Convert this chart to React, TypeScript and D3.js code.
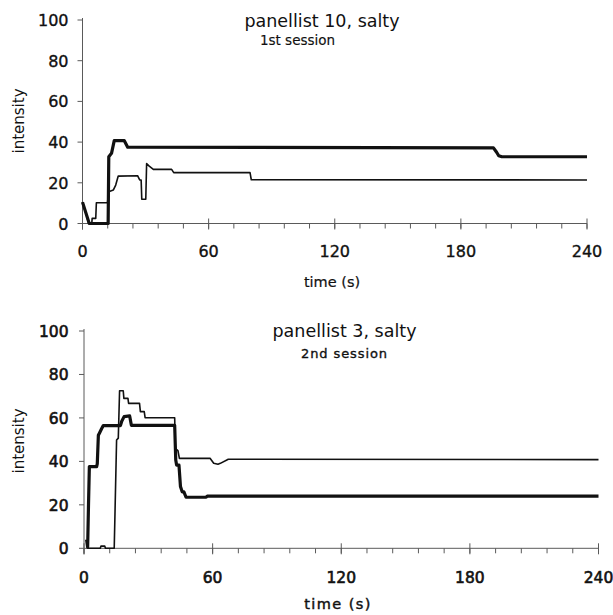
import React from "react";
import * as d3 from "d3";

// ---- data ----
const timeTicks = [0, 60, 120, 180, 240];
const minorTimeTicks = d3.range(0, 241, 12);
const intensityTicks = [0, 20, 40, 60, 80, 100];

// panellist 10, salty, 1st session
const p10Thick: [number, number][] = [
  [0, 10.5], [3.2, 0], [12.2, 0], [12.5, 32.8], [13.8, 34.5], [15.1, 40.7], [19.9, 40.7],
  [21.5, 37.5], [195.5, 37.2], [197, 35], [198, 33.3], [199.5, 32.8], [240, 32.8],
];
const p10Thin: [number, number][] = [
  [0, 10.5], [3, 0], [4.4, 0], [4.6, 2.5], [6.3, 2.5], [6.6, 10.2], [11.9, 10.2], [12.4, 15.6],
  [14.7, 16.5], [15.8, 18.9], [17, 23.3], [26.2, 23.5], [27.2, 21.4], [27.9, 21.4], [28.2, 11.9],
  [30.1, 11.9], [30.5, 29.4], [31.6, 28.3], [33.7, 26.6], [42.4, 26.6], [43.4, 25],
  [79.7, 25], [80.3, 21.5], [240, 21.4],
];

// panellist 3, salty, 2nd session
const p3Thick: [number, number][] = [
  [1.2, 4], [1.7, 0.5], [2.1, 20], [2.5, 37.6], [5.9, 37.6], [6.2, 39], [6.7, 52], [7.3, 53.2],
  [8.2, 55], [9.0, 56.5], [17, 56.5], [17.6, 58.5], [18.7, 60.6], [21.3, 60.9], [22.1, 56.6],
  [42.3, 56.6], [42.8, 40.6], [43.2, 38.3], [44.3, 38.3], [45, 28.4], [45.8, 26], [46.6, 26],
  [47.6, 23.5], [57, 23.5], [57.5, 24], [240, 24],
];
const p3Thin: [number, number][] = [
  [1.5, 0], [7.6, 0], [7.9, 1], [9.7, 1], [10, 0], [14.1, 0], [15.2, 49.8], [16, 50.7],
  [16.6, 72.5], [18.3, 72.5], [18.6, 69], [20.5, 69], [20.8, 66.7], [25.9, 66.7], [26.3, 62.9],
  [28.1, 62.9], [28.5, 60.1], [42.3, 60.1], [42.6, 46], [43.8, 45], [44.5, 41.4], [58.8, 41.4],
  [60.5, 39.1], [62.5, 38.7], [63.6, 39.1], [67.3, 41], [240, 40.8],
];

const FONT = "'DejaVu Sans', 'Liberation Sans', Arial, sans-serif";
const AXIS = "#5a5a5a";
const INK = "#111";

type PanelProps = {
  x0: number; x1: number; y0: number; y1: number;
  thick: [number, number][]; thin: [number, number][];
  title: string; titleX: number; titleY: number;
  sub: string; subX: number; subY: number; subSize: number; subStroke: number; subSpacing: number;
  tickBase: number; tickSize: number; tickStroke: number;
  xlabX: number; xlabY: number; xlabStroke: number; xlabSpacing: number;
  ylabY: number;
};

function Panel(p: PanelProps) {
  const x = d3.scaleLinear().domain([0, 240]).range([p.x0, p.x1]);
  const y = d3.scaleLinear().domain([0, 100]).range([p.y0, p.y1]);
  const line = d3.line<[number, number]>().x((d) => x(d[0])).y((d) => y(d[1])).curve(d3.curveLinear);
  return (
    <g fontFamily={FONT} fill={INK}>
      {/* axes */}
      <line x1={x(0)} x2={x(0)} y1={y(100) - 2} y2={y(0) + 6} stroke={AXIS} strokeWidth={1} />
      <line x1={x(0)} x2={x(240)} y1={y(0)} y2={y(0)} stroke={AXIS} strokeWidth={1} />
      {intensityTicks.map((t) => (
        <g key={"y" + t}>
          <line x1={x(0) - 5} x2={x(0)} y1={y(t)} y2={y(t)} stroke={AXIS} strokeWidth={1} />
          <text x={68.5} y={y(t) + 6} textAnchor="end" fontSize={p.tickSize}
            stroke={INK} strokeWidth={p.tickStroke}>{t}</text>
        </g>
      ))}
      {minorTimeTicks.map((t) => (
        <line key={"m" + t} x1={x(t)} x2={x(t)} y1={y(0)} y2={y(0) + 5} stroke={AXIS} strokeWidth={1} />
      ))}
      {timeTicks.map((t) => (
        <g key={"x" + t}>
          <line x1={x(t)} x2={x(t)} y1={y(0) - 5} y2={y(0) + 6} stroke={AXIS} strokeWidth={1} />
          <text x={x(t)} y={p.tickBase} textAnchor="middle" fontSize={p.tickSize}
            stroke={INK} strokeWidth={p.tickStroke}>{t}</text>
        </g>
      ))}
      {/* series */}
      <path d={line(p.thin) ?? ""} fill="none" stroke={INK} strokeWidth={1.6} strokeLinejoin="round" />
      <path d={line(p.thick) ?? ""} fill="none" stroke={INK} strokeWidth={3.2} strokeLinejoin="round" />
      {/* labels */}
      <text x={p.titleX} y={p.titleY} textAnchor="middle" fontSize={17.5}>{p.title}</text>
      <text x={p.subX} y={p.subY} textAnchor="middle" fontSize={p.subSize}
        stroke={INK} strokeWidth={p.subStroke} letterSpacing={p.subSpacing}>{p.sub}</text>
      <text x={p.xlabX} y={p.xlabY} textAnchor="middle" fontSize={14.5}
        stroke={INK} strokeWidth={p.xlabStroke} letterSpacing={p.xlabSpacing}>time (s)</text>
      <text transform={`translate(24,${p.ylabY}) rotate(-90)`} textAnchor="middle" fontSize={15}>intensity</text>
    </g>
  );
}

export default function App() {
  return (
    <svg width={613} height={615} style={{ position: "absolute", left: 0, top: 0, background: "#fff" }}>
      <rect width={613} height={615} fill="#fff" />
      <Panel
        x0={82.5} x1={587} y0={223.5} y1={20}
        thick={p10Thick} thin={p10Thin}
        title="panellist 10, salty" titleX={322} titleY={27}
        sub="1st session" subX={297.5} subY={45} subSize={13.5} subStroke={0.15} subSpacing={0}
        tickBase={257} tickSize={16} tickStroke={0.35}
        xlabX={332} xlabY={287} xlabStroke={0.2} xlabSpacing={0}
        ylabY={121}
      />
      <Panel
        x0={84} x1={598.5} y0={548.3} y1={331}
        thick={p3Thick} thin={p3Thin}
        title="panellist 3, salty" titleX={344.5} titleY={337}
        sub="2nd session" subX={344.5} subY={358} subSize={13} subStroke={0.35} subSpacing={0.9}
        tickBase={583} tickSize={15.5} tickStroke={0.6}
        xlabX={338} xlabY={609} xlabStroke={0.45} xlabSpacing={1.4}
        ylabY={441}
      />
    </svg>
  );
}
